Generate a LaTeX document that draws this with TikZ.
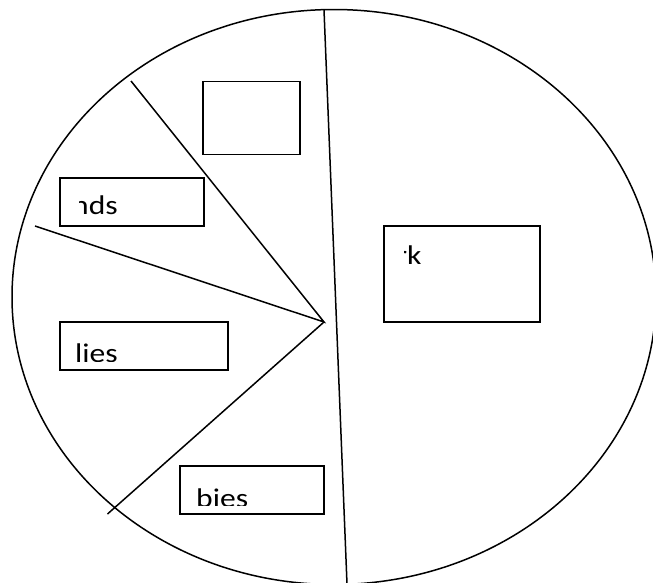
\documentclass[tikz,border=0pt]{standalone}
\usepackage{fontspec}
\setmainfont{Carlito}
\newfontfamily\lblfont[FakeStretch=1.17]{Carlito}
\begin{document}
\begin{tikzpicture}[x=1pt,y=-1pt,
  outline/.style={line width=1.5pt, black},
  box/.style={draw, line width=1.5pt, rectangle, inner sep=0pt, fill=none},
  lbl/.style={anchor=base west, inner sep=0pt, font=\lblfont\fontsize{27}{30}\selectfont}]
\useasboundingbox (0,0) rectangle (653,582);
\clip (0,0) rectangle (653,582);
% pie outline
\draw[outline] (334,297) ellipse [x radius=322, y radius=287.5];
% dividing lines
\coordinate (top) at (324,10);
\coordinate (bot) at (347,584);
\coordinate (hub) at (324,322);
\coordinate (e1) at (131,81);
\coordinate (e2) at (35,226);
\coordinate (e3) at (107.5,514);
\draw[outline] (top) -- (bot);
\draw[outline] (e1) -- (hub) -- (e2);
\draw[outline] (hub) -- (e3);
% boxes
\node[box, minimum width=97, minimum height=73] (b1) at (251.5,118) {};
\node[box, minimum width=144, minimum height=48] (b2) at (132,202) {};
\node[box, minimum width=156, minimum height=96] (b3) at (462,274) {};
\node[box, minimum width=168, minimum height=48] (b4) at (144,346) {};
\node[box, minimum width=144, minimum height=48] (b5) at (252,490) {};
% clipped labels
\begin{scope}
  \clip (79,180) rectangle (200,224);
  \node[lbl] (t2) at (72,214) {nds};
\end{scope}
\begin{scope}
  \clip (404,228) rectangle (538,320);
  \node[lbl] (t3) at (396,264) {rk};
\end{scope}
\begin{scope}
  \clip (62,324) rectangle (226,361);
  \node[lbl] (t4) at (75,362.5) {lies};
\end{scope}
\begin{scope}
  \clip (182,468) rectangle (322,505);
  \node[lbl] (t5) at (196,507) {bies};
\end{scope}
\end{tikzpicture}
\end{document}
